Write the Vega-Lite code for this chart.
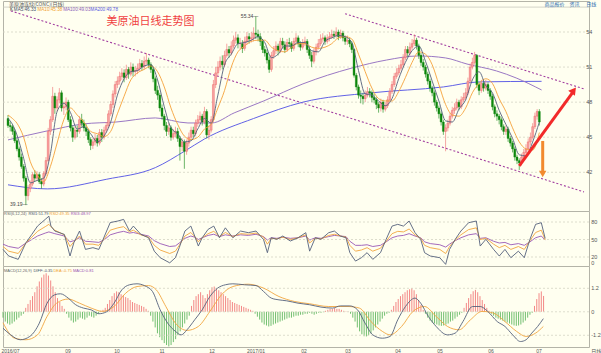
{
"$schema": "https://vega.github.io/schema/vega-lite/v6.json",
"background": "#fffff0",
"padding": 0,
"spacing": 0,
"bounds": "flush",
"config": {
  "font": "Liberation Sans",
  "concat": {"spacing": 0},
  "view": {"stroke": "#b4b4a8", "fill": "#fffff0"},
  "axis": {"disable": true, "labels": false, "ticks": false, "domain": false, "grid": false, "titleOpacity": 0, "titleFontSize": 0.1, "titlePadding": 0, "labelPadding": 0, "tickSize": 0, "minExtent": 0, "maxExtent": 0}
},
"datasets": {
"k": [
{"i":0,"o":46.6,"h":46.9,"l":45.8,"c":46.0,"m":-0.3},{"i":1,"o":46.0,"h":46.3,"l":45.5,"c":45.9,"m":-0.5},{"i":2,"o":45.9,"h":46.1,"l":45.2,"c":45.5,"m":-0.6},{"i":3,"o":45.5,"h":45.7,"l":44.5,"c":44.7,"m":-0.66},{"i":4,"o":44.7,"h":44.9,"l":43.8,"c":44.0,"m":-0.6},
{"i":5,"o":44.0,"h":44.2,"l":43.0,"c":43.3,"m":-0.5},{"i":6,"o":43.3,"h":43.6,"l":42.3,"c":42.5,"m":-0.4},{"i":7,"o":42.5,"h":42.7,"l":41.2,"c":41.5,"m":-0.3},{"i":8,"o":41.5,"h":41.7,"l":39.19,"c":40.0,"m":-0.2},{"i":9,"o":40.0,"h":40.9,"l":39.6,"c":40.6,"m":-0.1},
{"i":10,"o":40.6,"h":41.3,"l":40.3,"c":41.0,"m":0.2},{"i":11,"o":41.0,"h":42.0,"l":40.8,"c":41.8,"m":0.4},{"i":12,"o":41.8,"h":42.2,"l":41.2,"c":41.5,"m":0.6},{"i":13,"o":41.5,"h":42.1,"l":41.3,"c":41.8,"m":0.8},{"i":14,"o":41.8,"h":42.0,"l":41.0,"c":41.2,"m":1.0},
{"i":15,"o":41.2,"h":41.5,"l":40.6,"c":41.0,"m":1.3},{"i":16,"o":41.0,"h":42.1,"l":40.8,"c":41.9,"m":1.55},{"i":17,"o":41.9,"h":43.3,"l":41.7,"c":43.0,"m":1.75},{"i":18,"o":43.0,"h":45.8,"l":42.9,"c":45.5,"m":1.9},{"i":19,"o":45.5,"h":46.8,"l":45.2,"c":46.5,"m":1.97},
{"i":20,"o":46.5,"h":49.3,"l":46.3,"c":48.5,"m":1.85},{"i":21,"o":48.5,"h":48.8,"l":47.0,"c":47.5,"m":1.6},{"i":22,"o":47.5,"h":48.5,"l":47.2,"c":48.2,"m":1.3},{"i":23,"o":48.2,"h":49.2,"l":47.9,"c":48.8,"m":1.0},{"i":24,"o":48.8,"h":49.0,"l":47.2,"c":47.5,"m":0.7},
{"i":25,"o":47.5,"h":48.0,"l":46.9,"c":47.6,"m":0.5},{"i":26,"o":47.6,"h":48.4,"l":47.3,"c":48.0,"m":0.3},{"i":27,"o":48.0,"h":48.2,"l":46.3,"c":46.5,"m":0.15},{"i":28,"o":46.5,"h":46.8,"l":45.5,"c":45.8,"m":-0.1},{"i":29,"o":45.8,"h":46.0,"l":44.6,"c":45.0,"m":-0.3},
{"i":30,"o":45.0,"h":45.9,"l":44.8,"c":45.6,"m":-0.45},{"i":31,"o":45.6,"h":46.0,"l":45.0,"c":45.5,"m":-0.55},{"i":32,"o":45.5,"h":46.8,"l":45.3,"c":46.5,"m":-0.5},{"i":33,"o":46.5,"h":47.0,"l":45.9,"c":46.2,"m":-0.4},{"i":34,"o":46.2,"h":46.5,"l":45.5,"c":45.8,"m":-0.3},
{"i":35,"o":45.8,"h":46.1,"l":45.1,"c":45.5,"m":-0.35},{"i":36,"o":45.5,"h":45.7,"l":44.5,"c":44.8,"m":-0.4},{"i":37,"o":44.8,"h":45.0,"l":43.9,"c":44.3,"m":-0.3},{"i":38,"o":44.3,"h":44.9,"l":44.0,"c":44.6,"m":-0.2},{"i":39,"o":44.6,"h":45.3,"l":44.3,"c":44.9,"m":-0.25},
{"i":40,"o":44.9,"h":45.2,"l":44.2,"c":44.5,"m":-0.3},{"i":41,"o":44.5,"h":45.7,"l":44.3,"c":45.4,"m":-0.2},{"i":42,"o":45.4,"h":45.7,"l":44.6,"c":45.0,"m":-0.1},{"i":43,"o":45.0,"h":45.9,"l":44.8,"c":45.6,"m":0.05},{"i":44,"o":45.6,"h":46.3,"l":45.4,"c":46.0,"m":0.1},
{"i":45,"o":46.0,"h":47.3,"l":45.8,"c":47.0,"m":0.2},{"i":46,"o":47.0,"h":48.1,"l":46.8,"c":47.8,"m":0.4},{"i":47,"o":47.8,"h":49.0,"l":47.5,"c":48.7,"m":0.6},{"i":48,"o":48.7,"h":49.8,"l":48.4,"c":49.5,"m":0.8},{"i":49,"o":49.5,"h":50.2,"l":49.2,"c":49.8,"m":0.95},
{"i":50,"o":49.8,"h":50.6,"l":49.5,"c":50.2,"m":1.04},{"i":51,"o":50.2,"h":50.9,"l":49.9,"c":50.5,"m":1.0},{"i":52,"o":50.5,"h":50.8,"l":49.7,"c":50.1,"m":0.9},{"i":53,"o":50.1,"h":51.2,"l":49.9,"c":50.8,"m":0.85},{"i":54,"o":50.8,"h":51.0,"l":50.0,"c":50.4,"m":0.75},
{"i":55,"o":50.4,"h":51.4,"l":50.2,"c":51.0,"m":0.7},{"i":56,"o":51.0,"h":51.3,"l":50.2,"c":50.6,"m":0.6},{"i":57,"o":50.6,"h":51.1,"l":50.2,"c":50.7,"m":0.5},{"i":58,"o":50.7,"h":51.3,"l":50.4,"c":50.9,"m":0.45},{"i":59,"o":50.9,"h":51.7,"l":50.6,"c":51.3,"m":0.4},
{"i":60,"o":51.3,"h":51.6,"l":50.7,"c":51.0,"m":0.35},{"i":61,"o":51.0,"h":51.9,"l":50.8,"c":51.5,"m":0.3},{"i":62,"o":51.5,"h":52.2,"l":51.2,"c":51.6,"m":0.25},{"i":63,"o":51.6,"h":51.8,"l":50.9,"c":51.2,"m":0.15},{"i":64,"o":51.2,"h":51.4,"l":50.5,"c":50.8,"m":0.05},
{"i":65,"o":50.8,"h":51.0,"l":49.7,"c":50.0,"m":-0.2},{"i":66,"o":50.0,"h":50.2,"l":48.7,"c":49.0,"m":-0.5},{"i":67,"o":49.0,"h":49.4,"l":48.2,"c":48.6,"m":-0.8},{"i":68,"o":48.6,"h":48.8,"l":47.2,"c":47.5,"m":-1.1},{"i":69,"o":47.5,"h":47.8,"l":46.5,"c":46.8,"m":-1.3},
{"i":70,"o":46.8,"h":47.0,"l":45.6,"c":46.0,"m":-1.45},{"i":71,"o":46.0,"h":46.3,"l":45.1,"c":45.5,"m":-1.6},{"i":72,"o":45.5,"h":46.2,"l":45.2,"c":45.8,"m":-1.7},{"i":73,"o":45.8,"h":46.0,"l":44.7,"c":45.0,"m":-1.77},{"i":74,"o":45.0,"h":45.7,"l":44.8,"c":45.3,"m":-1.7},
{"i":75,"o":45.3,"h":45.9,"l":45.0,"c":45.5,"m":-1.55},{"i":76,"o":45.5,"h":45.8,"l":44.6,"c":44.9,"m":-1.4},{"i":77,"o":44.9,"h":45.1,"l":43.0,"c":44.2,"m":-1.2},{"i":78,"o":44.2,"h":44.9,"l":43.8,"c":44.6,"m":-1.0},{"i":79,"o":44.6,"h":44.8,"l":42.3,"c":43.8,"m":-0.8},
{"i":80,"o":43.8,"h":44.8,"l":43.5,"c":44.5,"m":-0.6},{"i":81,"o":44.5,"h":45.4,"l":44.2,"c":45.0,"m":-0.4},{"i":82,"o":45.0,"h":45.9,"l":44.8,"c":45.6,"m":-0.2},{"i":83,"o":45.6,"h":45.9,"l":45.0,"c":45.3,"m":0.3},{"i":84,"o":45.3,"h":46.5,"l":45.1,"c":46.2,"m":0.6},
{"i":85,"o":46.2,"h":46.9,"l":45.9,"c":46.5,"m":0.8},{"i":86,"o":46.5,"h":47.2,"l":46.2,"c":46.8,"m":0.9},{"i":87,"o":46.8,"h":47.0,"l":46.0,"c":46.3,"m":1.0},{"i":88,"o":46.3,"h":47.6,"l":46.1,"c":47.2,"m":0.85},{"i":89,"o":47.2,"h":47.4,"l":44.9,"c":45.2,"m":0.7},
{"i":90,"o":45.2,"h":46.0,"l":44.8,"c":45.6,"m":0.9},{"i":91,"o":45.6,"h":46.8,"l":45.4,"c":46.5,"m":1.1},{"i":92,"o":46.5,"h":49.9,"l":46.3,"c":49.5,"m":1.25},{"i":93,"o":49.5,"h":51.0,"l":49.2,"c":50.5,"m":1.29},{"i":94,"o":50.5,"h":51.5,"l":50.2,"c":51.0,"m":1.2},
{"i":95,"o":51.0,"h":51.9,"l":50.7,"c":51.5,"m":1.1},{"i":96,"o":51.5,"h":52.0,"l":50.8,"c":51.2,"m":1.0},{"i":97,"o":51.2,"h":52.4,"l":51.0,"c":52.0,"m":0.9},{"i":98,"o":52.0,"h":53.0,"l":51.8,"c":52.5,"m":0.8},{"i":99,"o":52.5,"h":52.8,"l":51.8,"c":52.2,"m":0.7},
{"i":100,"o":52.2,"h":53.2,"l":52.0,"c":52.8,"m":0.6},{"i":101,"o":52.8,"h":53.7,"l":52.6,"c":53.3,"m":0.5},{"i":102,"o":53.3,"h":54.0,"l":53.0,"c":53.5,"m":0.45},{"i":103,"o":53.5,"h":53.8,"l":52.6,"c":53.0,"m":0.4},{"i":104,"o":53.0,"h":53.5,"l":52.5,"c":53.05,"m":0.35},
{"i":105,"o":53.0,"h":53.3,"l":52.2,"c":52.6,"m":0.3},{"i":106,"o":52.6,"h":53.6,"l":52.4,"c":53.2,"m":0.25},{"i":107,"o":53.2,"h":54.0,"l":52.9,"c":53.6,"m":0.2},{"i":108,"o":53.6,"h":53.9,"l":53.0,"c":53.4,"m":0.15},{"i":109,"o":53.4,"h":54.0,"l":53.1,"c":53.5,"m":0.1},
{"i":110,"o":53.5,"h":54.4,"l":53.2,"c":53.9,"m":0.05},{"i":111,"o":53.9,"h":55.34,"l":53.4,"c":53.8,"m":-0.1},{"i":112,"o":53.8,"h":54.2,"l":53.2,"c":53.6,"m":-0.25},{"i":113,"o":53.6,"h":53.9,"l":52.8,"c":53.2,"m":-0.4},{"i":114,"o":53.2,"h":53.4,"l":52.2,"c":52.5,"m":-0.55},
{"i":115,"o":52.5,"h":52.8,"l":51.9,"c":52.2,"m":-0.65},{"i":116,"o":52.2,"h":52.5,"l":51.3,"c":51.6,"m":-0.7},{"i":117,"o":51.6,"h":51.9,"l":50.5,"c":50.8,"m":-0.75},{"i":118,"o":50.8,"h":52.3,"l":50.6,"c":52.0,"m":-0.72},{"i":119,"o":52.0,"h":52.8,"l":51.7,"c":52.4,"m":-0.65},
{"i":120,"o":52.4,"h":53.2,"l":52.1,"c":52.8,"m":-0.6},{"i":121,"o":52.8,"h":53.0,"l":52.0,"c":52.4,"m":-0.55},{"i":122,"o":52.4,"h":53.5,"l":52.2,"c":53.2,"m":-0.5},{"i":123,"o":53.2,"h":53.5,"l":52.6,"c":52.9,"m":-0.45},{"i":124,"o":52.9,"h":53.2,"l":52.2,"c":52.5,"m":-0.4},
{"i":125,"o":52.5,"h":53.4,"l":52.3,"c":53.1,"m":-0.35},{"i":126,"o":53.1,"h":53.5,"l":52.7,"c":53.0,"m":-0.3},{"i":127,"o":53.0,"h":53.2,"l":52.3,"c":52.6,"m":-0.3},{"i":128,"o":52.6,"h":53.5,"l":52.4,"c":53.2,"m":-0.25},{"i":129,"o":53.2,"h":53.9,"l":53.0,"c":53.5,"m":-0.2},
{"i":130,"o":53.5,"h":53.7,"l":52.7,"c":53.0,"m":-0.2},{"i":131,"o":53.0,"h":53.2,"l":52.4,"c":52.7,"m":-0.15},{"i":132,"o":52.7,"h":53.4,"l":52.5,"c":53.0,"m":-0.15},{"i":133,"o":53.0,"h":53.6,"l":52.8,"c":53.2,"m":-0.1},{"i":134,"o":53.2,"h":53.4,"l":52.2,"c":52.5,"m":-0.1},
{"i":135,"o":52.5,"h":52.8,"l":51.7,"c":52.0,"m":-0.05},{"i":136,"o":52.0,"h":52.3,"l":51.0,"c":51.5,"m":-0.1},{"i":137,"o":51.5,"h":52.6,"l":51.3,"c":52.3,"m":-0.15},{"i":138,"o":52.3,"h":53.0,"l":52.0,"c":52.7,"m":-0.1},{"i":139,"o":52.7,"h":53.4,"l":52.5,"c":53.0,"m":-0.05},
{"i":140,"o":53.0,"h":53.8,"l":52.8,"c":53.4,"m":-0.05},{"i":141,"o":53.4,"h":53.9,"l":53.1,"c":53.5,"m":-0.02},{"i":142,"o":53.5,"h":53.7,"l":52.9,"c":53.2,"m":0.05},{"i":143,"o":53.2,"h":53.8,"l":53.0,"c":53.5,"m":0.1},{"i":144,"o":53.5,"h":54.0,"l":53.2,"c":53.6,"m":0.15},
{"i":145,"o":53.6,"h":54.2,"l":53.4,"c":53.8,"m":0.15},{"i":146,"o":53.8,"h":54.1,"l":53.4,"c":53.7,"m":0.2},{"i":147,"o":53.7,"h":54.4,"l":53.5,"c":54.0,"m":0.15},{"i":148,"o":54.0,"h":54.2,"l":53.3,"c":53.6,"m":0.15},{"i":149,"o":53.6,"h":54.2,"l":53.4,"c":53.9,"m":0.1},
{"i":150,"o":53.9,"h":54.1,"l":53.2,"c":53.5,"m":0.05},{"i":151,"o":53.5,"h":53.7,"l":52.9,"c":53.2,"m":0.02},{"i":152,"o":53.2,"h":53.7,"l":52.9,"c":53.3,"m":0.01},{"i":153,"o":53.3,"h":53.5,"l":52.7,"c":53.0,"m":-0.1},{"i":154,"o":53.0,"h":53.2,"l":52.2,"c":52.5,"m":-0.3},
{"i":155,"o":52.5,"h":52.6,"l":50.1,"c":50.3,"m":-0.5},{"i":156,"o":50.3,"h":50.5,"l":49.0,"c":49.3,"m":-0.8},{"i":157,"o":49.3,"h":49.5,"l":48.3,"c":48.6,"m":-1.0},{"i":158,"o":48.6,"h":49.0,"l":47.9,"c":48.5,"m":-1.15},{"i":159,"o":48.5,"h":48.8,"l":47.8,"c":48.3,"m":-1.25},
{"i":160,"o":48.3,"h":49.0,"l":48.0,"c":48.6,"m":-1.26},{"i":161,"o":48.6,"h":49.3,"l":48.4,"c":48.9,"m":-1.2},{"i":162,"o":48.9,"h":49.2,"l":48.4,"c":48.8,"m":-1.1},{"i":163,"o":48.8,"h":49.0,"l":48.0,"c":48.4,"m":-0.95},{"i":164,"o":48.4,"h":48.7,"l":47.9,"c":48.2,"m":-0.8},
{"i":165,"o":48.2,"h":48.4,"l":47.4,"c":47.8,"m":-0.65},{"i":166,"o":47.8,"h":48.0,"l":47.1,"c":47.5,"m":-0.5},{"i":167,"o":47.5,"h":48.3,"l":47.2,"c":48.0,"m":-0.35},{"i":168,"o":48.0,"h":48.2,"l":47.1,"c":47.4,"m":-0.2},{"i":169,"o":47.4,"h":48.0,"l":47.2,"c":47.7,"m":-0.1},
{"i":170,"o":47.7,"h":48.5,"l":47.5,"c":48.2,"m":-0.05},{"i":171,"o":48.2,"h":49.2,"l":48.0,"c":48.9,"m":0.1},{"i":172,"o":48.9,"h":49.8,"l":48.7,"c":49.5,"m":0.3},{"i":173,"o":49.5,"h":50.5,"l":49.3,"c":50.2,"m":0.5},{"i":174,"o":50.2,"h":50.9,"l":50.0,"c":50.5,"m":0.65},
{"i":175,"o":50.5,"h":51.2,"l":50.3,"c":50.9,"m":0.8},{"i":176,"o":50.9,"h":51.6,"l":50.7,"c":51.2,"m":0.9},{"i":177,"o":51.2,"h":52.1,"l":51.0,"c":51.8,"m":1.0},{"i":178,"o":51.8,"h":52.8,"l":51.6,"c":52.5,"m":1.1},{"i":179,"o":52.5,"h":52.8,"l":51.9,"c":52.2,"m":1.15},
{"i":180,"o":52.2,"h":53.1,"l":52.0,"c":52.7,"m":1.21},{"i":181,"o":52.7,"h":53.4,"l":52.5,"c":53.0,"m":1.1},{"i":182,"o":53.0,"h":53.8,"l":52.8,"c":53.3,"m":0.9},{"i":183,"o":53.3,"h":53.5,"l":52.5,"c":52.8,"m":0.6},{"i":184,"o":52.8,"h":53.0,"l":51.7,"c":52.0,"m":0.35},
{"i":185,"o":52.0,"h":52.2,"l":51.1,"c":51.4,"m":0.1},{"i":186,"o":51.4,"h":51.7,"l":50.7,"c":51.0,"m":-0.1},{"i":187,"o":51.0,"h":51.2,"l":50.1,"c":50.4,"m":-0.3},{"i":188,"o":50.4,"h":50.6,"l":49.5,"c":49.8,"m":-0.45},{"i":189,"o":49.8,"h":50.0,"l":48.9,"c":49.2,"m":-0.55},
{"i":190,"o":49.2,"h":49.4,"l":48.5,"c":48.8,"m":-0.6},{"i":191,"o":48.8,"h":49.0,"l":47.7,"c":48.0,"m":-0.65},{"i":192,"o":48.0,"h":48.2,"l":47.2,"c":47.5,"m":-0.7},{"i":193,"o":47.5,"h":47.7,"l":46.6,"c":47.0,"m":-0.72},{"i":194,"o":47.0,"h":47.2,"l":46.0,"c":46.3,"m":-0.7},
{"i":195,"o":46.3,"h":46.5,"l":45.2,"c":45.5,"m":-0.65},{"i":196,"o":45.5,"h":46.1,"l":43.8,"c":45.8,"m":-0.6},{"i":197,"o":45.8,"h":46.5,"l":45.5,"c":46.2,"m":-0.5},{"i":198,"o":46.2,"h":47.1,"l":46.0,"c":46.8,"m":-0.45},{"i":199,"o":46.8,"h":47.6,"l":46.6,"c":47.3,"m":-0.35},
{"i":200,"o":47.3,"h":47.9,"l":47.0,"c":47.5,"m":-0.25},{"i":201,"o":47.5,"h":48.3,"l":47.3,"c":48.0,"m":-0.15},{"i":202,"o":48.0,"h":48.2,"l":47.3,"c":47.6,"m":-0.05},{"i":203,"o":47.6,"h":48.5,"l":47.4,"c":48.2,"m":0.2},{"i":204,"o":48.2,"h":48.8,"l":48.0,"c":48.4,"m":0.45},
{"i":205,"o":48.4,"h":49.2,"l":48.2,"c":48.8,"m":0.7},{"i":206,"o":48.8,"h":50.1,"l":48.6,"c":49.8,"m":0.9},{"i":207,"o":49.8,"h":51.3,"l":49.6,"c":51.0,"m":1.05},{"i":208,"o":51.0,"h":51.8,"l":50.8,"c":51.4,"m":1.12},{"i":209,"o":51.4,"h":52.3,"l":51.2,"c":52.0,"m":1.0},
{"i":210,"o":52.0,"h":52.1,"l":49.2,"c":49.5,"m":0.8},{"i":211,"o":49.5,"h":49.7,"l":48.6,"c":49.0,"m":0.6},{"i":212,"o":49.0,"h":49.9,"l":48.8,"c":49.6,"m":0.4},{"i":213,"o":49.6,"h":49.8,"l":48.9,"c":49.2,"m":0.2},{"i":214,"o":49.2,"h":49.9,"l":49.0,"c":49.5,"m":0.05},
{"i":215,"o":49.5,"h":49.7,"l":48.7,"c":49.0,"m":-0.1},{"i":216,"o":49.0,"h":49.2,"l":48.2,"c":48.5,"m":-0.2},{"i":217,"o":48.5,"h":48.7,"l":47.3,"c":47.6,"m":-0.3},{"i":218,"o":47.6,"h":47.8,"l":46.7,"c":47.0,"m":-0.35},{"i":219,"o":47.0,"h":47.3,"l":46.4,"c":46.8,"m":-0.4},
{"i":220,"o":46.8,"h":47.0,"l":46.1,"c":46.5,"m":-0.45},{"i":221,"o":46.5,"h":46.7,"l":45.6,"c":45.9,"m":-0.5},{"i":222,"o":45.9,"h":46.1,"l":45.2,"c":45.5,"m":-0.55},{"i":223,"o":45.5,"h":46.0,"l":45.2,"c":45.7,"m":-0.6},{"i":224,"o":45.7,"h":45.9,"l":44.6,"c":44.9,"m":-0.65},
{"i":225,"o":44.9,"h":45.1,"l":44.2,"c":44.5,"m":-0.7},{"i":226,"o":44.5,"h":44.7,"l":43.7,"c":44.0,"m":-0.72},{"i":227,"o":44.0,"h":44.2,"l":43.0,"c":43.3,"m":-0.7},{"i":228,"o":43.3,"h":43.5,"l":42.7,"c":43.0,"m":-0.65},{"i":229,"o":43.0,"h":43.2,"l":42.2,"c":42.8,"m":-0.55},
{"i":230,"o":42.8,"h":43.6,"l":42.6,"c":43.3,"m":-0.45},{"i":231,"o":43.3,"h":44.0,"l":43.1,"c":43.7,"m":-0.3},{"i":232,"o":43.7,"h":44.4,"l":43.5,"c":44.0,"m":-0.15},{"i":233,"o":44.0,"h":44.9,"l":43.8,"c":44.6,"m":-0.05},{"i":234,"o":44.6,"h":45.4,"l":44.3,"c":45.0,"m":0.3},
{"i":235,"o":45.0,"h":46.2,"l":44.8,"c":45.9,"m":0.65},{"i":236,"o":45.9,"h":47.1,"l":45.7,"c":46.8,"m":0.95},{"i":237,"o":46.8,"h":47.4,"l":46.5,"c":47.2,"m":1.04},{"i":238,"o":47.2,"h":47.4,"l":46.0,"c":46.3,"m":0.81}
],
"ma": [
{"i":0,"a":46.6,"b":46.9},{"i":2,"a":46.1,"b":46.6},{"i":4,"a":45.2,"b":46.2},{"i":7,"a":43.2,"b":45.0},{"i":10,"a":41.1,"b":42.9},{"i":13,"a":41.3,"b":41.8},{"i":16,"a":41.5,"b":41.2},{"i":19,"a":43.6,"b":42.5},{"i":22,"a":47.2,"b":44.5},{"i":25,"a":47.9,"b":46.5},{"i":28,"a":47.1,"b":47.5},{"i":31,"a":45.7,"b":46.9},{"i":34,"a":45.9,"b":46.3},{"i":37,"a":45.3,"b":45.5},{"i":40,"a":44.6,"b":45.3},{"i":43,"a":45.1,"b":45.05},{"i":46,"a":46.3,"b":45.5},{"i":49,"a":48.6,"b":47.0},{"i":52,"a":50.0,"b":48.5},{"i":55,"a":50.6,"b":49.9},{"i":58,"a":50.7,"b":50.5},{"i":61,"a":51.1,"b":50.8},{"i":64,"a":51.2,"b":51.1},{"i":67,"a":49.9,"b":50.6},{"i":70,"a":47.6,"b":49.3},{"i":73,"a":45.8,"b":47.5},{"i":76,"a":45.3,"b":46.1},{"i":79,"a":44.6,"b":45.1},{"i":82,"a":44.7,"b":44.8},{"i":85,"a":45.7,"b":45.0},{"i":88,"a":46.6,"b":45.7},{"i":91,"a":46.2,"b":46.1},{"i":94,"a":48.6,"b":47.5},{"i":97,"a":51.2,"b":49.0},{"i":100,"a":52.1,"b":51.0},{"i":103,"a":53.0,"b":52.3},{"i":106,"a":53.1,"b":52.8},{"i":109,"a":53.3,"b":53.2},{"i":112,"a":53.6,"b":53.3},{"i":115,"a":53.1,"b":53.3},{"i":118,"a":51.8,"b":52.7},{"i":121,"a":52.1,"b":52.4},{"i":124,"a":52.8,"b":52.3},{"i":127,"a":52.8,"b":52.7},{"i":130,"a":53.1,"b":53.0},{"i":133,"a":53.1,"b":53.0},{"i":136,"a":52.4,"b":52.7},{"i":139,"a":52.3,"b":52.6},{"i":142,"a":53.2,"b":52.7},{"i":145,"a":53.5,"b":53.0},{"i":148,"a":53.7,"b":53.5},{"i":151,"a":53.6,"b":53.6},{"i":154,"a":53.1,"b":53.4},{"i":157,"a":50.7,"b":52.1},{"i":160,"a":48.7,"b":50.6},{"i":163,"a":48.6,"b":49.2},{"i":166,"a":48.1,"b":48.3},{"i":169,"a":47.7,"b":48.1},{"i":172,"a":48.3,"b":48.1},{"i":175,"a":50.0,"b":48.9},{"i":178,"a":51.4,"b":50.1},{"i":181,"a":52.4,"b":51.4},{"i":184,"a":52.8,"b":52.3},{"i":187,"a":51.5,"b":52.1},{"i":190,"a":49.8,"b":51.2},{"i":193,"a":48.1,"b":49.5},{"i":196,"a":46.4,"b":47.8},{"i":199,"a":46.3,"b":46.9},{"i":202,"a":47.4,"b":46.8},{"i":205,"a":48.2,"b":47.5},{"i":208,"a":49.9,"b":48.8},{"i":211,"a":50.6,"b":49.6},{"i":214,"a":49.4,"b":50.0},{"i":217,"a":48.8,"b":49.6},{"i":220,"a":47.3,"b":48.3},{"i":223,"a":46.1,"b":47.2},{"i":226,"a":44.9,"b":45.8},{"i":229,"a":43.5,"b":44.6},{"i":232,"a":43.4,"b":44.0},{"i":235,"a":44.6,"b":43.9},{"i":238,"a":46.3,"b":45.4}
],
"m100": [
{"i":0,"v":44.77},{"i":17.6,"v":45.54},{"i":33.9,"v":46.14},{"i":48.4,"v":46.3},{"i":66,"v":46.65},{"i":80.6,"v":46.22},{"i":91.2,"v":46.22},{"i":101.3,"v":47.08},{"i":114.5,"v":48.1},{"i":132.1,"v":49.56},{"i":154.1,"v":50.92},{"i":169.5,"v":51.6},{"i":183.6,"v":51.95},{"i":196,"v":51.78},{"i":205.6,"v":51.26},{"i":218.8,"v":50.67},{"i":227.6,"v":50.07},{"i":239,"v":49.04}
],
"m200": [
{"i":0,"v":40.93},{"i":17.6,"v":40.58},{"i":44,"v":41.4},{"i":66,"v":42.4},{"i":79.3,"v":43.83},{"i":88,"v":44.85},{"i":110,"v":46.6},{"i":132.1,"v":48.0},{"i":163,"v":48.8},{"i":195,"v":49.3},{"i":211,"v":49.73},{"i":239,"v":49.78}
],
"trend": [
{"g":"A","i":1.3,"v":55.8},{"g":"A","i":258,"v":40.32},{"g":"B","i":151,"v":55.56},{"g":"B","i":258,"v":49.13}
],
"rsi": [
{"i":0,"r1":33,"r2":38,"r3":42},{"i":2.5,"r1":21.7,"r2":30,"r3":38},{"i":6.7,"r1":16,"r2":26,"r3":35},{"i":10.1,"r1":44.5,"r2":44,"r3":44},{"i":12.7,"r1":58.8,"r2":54,"r3":50},{"i":15.2,"r1":73,"r2":64,"r3":56},{"i":18.6,"r1":84.5,"r2":72,"r3":61},{"i":20.2,"r1":90,"r2":76,"r3":63},{"i":21.1,"r1":73,"r2":72,"r3":62},{"i":22.8,"r1":64.5,"r2":66,"r3":60},{"i":27,"r1":58.8,"r2":58,"r3":56},{"i":29.5,"r1":21.7,"r2":38,"r3":46},{"i":31.2,"r1":44.5,"r2":46,"r3":48},{"i":33.7,"r1":64.5,"r2":56,"r3":53},{"i":36.3,"r1":33,"r2":42,"r3":47},{"i":39.6,"r1":36,"r2":42,"r3":46},{"i":42.2,"r1":33,"r2":40,"r3":45},{"i":44.7,"r1":56,"r2":52,"r3":50},{"i":47.2,"r1":79,"r2":66,"r3":58},{"i":50.6,"r1":81.7,"r2":70,"r3":62},{"i":53.1,"r1":84.5,"r2":72,"r3":64},{"i":55.7,"r1":64.5,"r2":63,"r3":61},{"i":57.4,"r1":73,"r2":66,"r3":62},{"i":60.7,"r1":58.8,"r2":58,"r3":59},{"i":64.1,"r1":53,"r2":54,"r3":56},{"i":66.6,"r1":30,"r2":40,"r3":48},{"i":69.2,"r1":18.8,"r2":32,"r3":43},{"i":73.4,"r1":10,"r2":26,"r3":38},{"i":75.9,"r1":18.8,"r2":30,"r3":39},{"i":77.6,"r1":36,"r2":40,"r3":44},{"i":80.1,"r1":64.5,"r2":56,"r3":52},{"i":82.7,"r1":73,"r2":62,"r3":56},{"i":84.4,"r1":56,"r2":55,"r3":54},{"i":86,"r1":38.8,"r2":46,"r3":50},{"i":87.7,"r1":53,"r2":53,"r3":53},{"i":90.3,"r1":67.4,"r2":60,"r3":57},{"i":92.8,"r1":73,"r2":64,"r3":59},{"i":95.3,"r1":53,"r2":55,"r3":55},{"i":97.9,"r1":70,"r2":62,"r3":58},{"i":101.2,"r1":53,"r2":55,"r3":56},{"i":104.6,"r1":64.5,"r2":60,"r3":58},{"i":108,"r1":61.7,"r2":59,"r3":57},{"i":111.4,"r1":64.5,"r2":61,"r3":59},{"i":114.7,"r1":50,"r2":54,"r3":55},{"i":116.4,"r1":27.4,"r2":42,"r3":49},{"i":118.1,"r1":53,"r2":52,"r3":53},{"i":120.6,"r1":50.3,"r2":51,"r3":52},{"i":123.2,"r1":56,"r2":54,"r3":54},{"i":126.5,"r1":47.4,"r2":50,"r3":52},{"i":129.9,"r1":53,"r2":53,"r3":53},{"i":133.3,"r1":61.7,"r2":58,"r3":56},{"i":135,"r1":30,"r2":44,"r3":49},{"i":137.5,"r1":53,"r2":52,"r3":53},{"i":140,"r1":50.3,"r2":51,"r3":52},{"i":143.4,"r1":61.7,"r2":57,"r3":55},{"i":145.9,"r1":64.5,"r2":59,"r3":57},{"i":148.5,"r1":56,"r2":56,"r3":56},{"i":151,"r1":53,"r2":54,"r3":55},{"i":152.7,"r1":27.4,"r2":40,"r3":47},{"i":155.2,"r1":13,"r2":30,"r3":40},{"i":157.8,"r1":18.8,"r2":32,"r3":40},{"i":160.3,"r1":27.4,"r2":36,"r3":41},{"i":162.8,"r1":16,"r2":30,"r3":38},{"i":166.2,"r1":27.4,"r2":35,"r3":40},{"i":168.7,"r1":50.3,"r2":47,"r3":46},{"i":171.3,"r1":73,"r2":60,"r3":53},{"i":173.8,"r1":76,"r2":64,"r3":56},{"i":176.3,"r1":73,"r2":63,"r3":57},{"i":178.8,"r1":81.7,"r2":68,"r3":60},{"i":181.4,"r1":61.7,"r2":58,"r3":56},{"i":183.9,"r1":50.3,"r2":52,"r3":53},{"i":185.6,"r1":27.4,"r2":40,"r3":46},{"i":188.1,"r1":21.7,"r2":36,"r3":43},{"i":192.3,"r1":18.8,"r2":33,"r3":41},{"i":194.9,"r1":7.4,"r2":26,"r3":37},{"i":196.6,"r1":33,"r2":38,"r3":42},{"i":199.1,"r1":50.3,"r2":49,"r3":48},{"i":201.6,"r1":64.5,"r2":58,"r3":53},{"i":205,"r1":78.8,"r2":67,"r3":58},{"i":208.4,"r1":81.7,"r2":70,"r3":60},{"i":210.1,"r1":38.8,"r2":50,"r3":52},{"i":212.6,"r1":50.3,"r2":52,"r3":53},{"i":216,"r1":33,"r2":42,"r3":47},{"i":218.5,"r1":21.7,"r2":36,"r3":44},{"i":221,"r1":33,"r2":40,"r3":45},{"i":223.6,"r1":18.8,"r2":33,"r3":41},{"i":226.9,"r1":30,"r2":38,"r3":43},{"i":229.5,"r1":18.8,"r2":33,"r3":40},{"i":232,"r1":50.3,"r2":48,"r3":46},{"i":234.5,"r1":76,"r2":62,"r3":53},{"i":237,"r1":78.8,"r2":66,"r3":56},{"i":238.7,"r1":51.8,"r2":49.4,"r3":49.0}
],
"dif": [
{"i":0,"v":-0.84},{"i":3.4,"v":-1.18},{"i":7.6,"v":-1.43},{"i":11.8,"v":-1.26},{"i":16,"v":-0.58},{"i":19.4,"v":0.44},{"i":22.8,"v":0.87},{"i":25.3,"v":0.92},{"i":28.7,"v":0.7},{"i":32,"v":0.36},{"i":35.4,"v":0.19},{"i":38.8,"v":0.1},{"i":42.2,"v":-0.1},{"i":45.6,"v":0},{"i":48.9,"v":0.44},{"i":52.3,"v":1.12},{"i":55.7,"v":1.38},{"i":59,"v":1.43},{"i":62.4,"v":1.33},{"i":65.8,"v":1.04},{"i":69.2,"v":0.1},{"i":72.5,"v":-0.58},{"i":75.9,"v":-1.0},{"i":78.5,"v":-1.18},{"i":81,"v":-0.92},{"i":84.4,"v":-0.41},{"i":87.7,"v":0.1},{"i":91.1,"v":0.78},{"i":94.5,"v":1.21},{"i":97.9,"v":1.38},{"i":101.2,"v":1.43},{"i":106.3,"v":1.38},{"i":111.4,"v":1.34},{"i":114.7,"v":1.04},{"i":118.1,"v":0.7},{"i":121.5,"v":0.61},{"i":124.9,"v":0.56},{"i":129.9,"v":0.44},{"i":135,"v":0.36},{"i":140,"v":0.24},{"i":145.1,"v":0.19},{"i":148.5,"v":0.3},{"i":152.7,"v":0.3},{"i":156.1,"v":0.1},{"i":159.4,"v":-0.58},{"i":162.8,"v":-1.18},{"i":167,"v":-1.35},{"i":170.4,"v":-1.26},{"i":173.8,"v":-0.41},{"i":177.2,"v":0.27},{"i":181.4,"v":0.7},{"i":183.9,"v":0.44},{"i":187.3,"v":-0.24},{"i":190.7,"v":-0.75},{"i":195.7,"v":-1.18},{"i":199.1,"v":-1.09},{"i":202.5,"v":-0.5},{"i":206.7,"v":0.27},{"i":210.1,"v":0.27},{"i":213.4,"v":0.02},{"i":217.6,"v":-0.5},{"i":221,"v":-0.75},{"i":224.4,"v":-1.18},{"i":227.8,"v":-1.52},{"i":230.3,"v":-1.43},{"i":232.8,"v":-1.09},{"i":235.4,"v":-0.75},{"i":237.9,"v":-0.35}
],
"dea": [
{"i":0,"v":-0.56},{"i":5.1,"v":-1.35},{"i":10.1,"v":-1.43},{"i":15.2,"v":-1.18},{"i":19.4,"v":-0.24},{"i":23.6,"v":0.44},{"i":28.7,"v":0.65},{"i":33.7,"v":0.44},{"i":38.8,"v":0.19},{"i":43.9,"v":0.02},{"i":48.9,"v":0.27},{"i":54,"v":0.95},{"i":59,"v":1.29},{"i":64.1,"v":1.34},{"i":67.5,"v":1.12},{"i":71.7,"v":0.27},{"i":75.9,"v":-0.58},{"i":81,"v":-0.95},{"i":86,"v":-0.75},{"i":91.1,"v":0.02},{"i":96.2,"v":0.87},{"i":101.2,"v":1.29},{"i":108,"v":1.41},{"i":114.7,"v":1.21},{"i":121.5,"v":0.78},{"i":128.2,"v":0.53},{"i":135,"v":0.41},{"i":143.4,"v":0.27},{"i":151.9,"v":0.27},{"i":156.9,"v":0.19},{"i":162,"v":-0.5},{"i":167,"v":-1.0},{"i":170.4,"v":-1.18},{"i":175.5,"v":-0.75},{"i":180.5,"v":0.02},{"i":185.6,"v":0.27},{"i":190.7,"v":-0.24},{"i":195.7,"v":-0.75},{"i":200.8,"v":-0.92},{"i":205.8,"v":-0.41},{"i":210.9,"v":0.02},{"i":216,"v":-0.07},{"i":221,"v":-0.5},{"i":226.1,"v":-1.0},{"i":230.3,"v":-1.26},{"i":234.5,"v":-1.09},{"i":237.9,"v":-0.75}
],
"redarrow": [{"i":229,"v":42.54},{"i":252.8,"v":48.8}],
"orangearrow": [{"i":239.5,"v":44.68},{"i":239.5,"v":42.1}]
},
"vconcat": [
{
 "width": 586, "height": 210,
 "layer": [
  {"data": {"name": "trend"}, "mark": {"type": "line", "strokeDash": [2, 2], "color": "#a23ea0", "strokeWidth": 1.1},
   "encoding": {"x": {"field": "i", "type": "quantitative", "scale": {"domain": [0, 258], "nice": false, "zero": false}},
    "y": {"field": "v", "type": "quantitative", "scale": {"domain": [38.69, 56.65], "nice": false, "zero": false}}, "detail": {"field": "g"}}},
  {"data": {"values": [{}]}, "mark": {"type": "rule", "color": "#d4d4c4", "strokeDash": [2, 2], "strokeWidth": 0.8}, "encoding": {"y": {"datum": 54, "type": "quantitative"}}},
  {"data": {"values": [{}]}, "mark": {"type": "rule", "color": "#d4d4c4", "strokeDash": [2, 2], "strokeWidth": 0.8}, "encoding": {"y": {"datum": 51, "type": "quantitative"}}},
  {"data": {"values": [{}]}, "mark": {"type": "rule", "color": "#d4d4c4", "strokeDash": [2, 2], "strokeWidth": 0.8}, "encoding": {"y": {"datum": 48, "type": "quantitative"}}},
  {"data": {"values": [{}]}, "mark": {"type": "rule", "color": "#d4d4c4", "strokeDash": [2, 2], "strokeWidth": 0.8}, "encoding": {"y": {"datum": 45, "type": "quantitative"}}},
  {"data": {"values": [{}]}, "mark": {"type": "rule", "color": "#d4d4c4", "strokeDash": [2, 2], "strokeWidth": 0.8}, "encoding": {"y": {"datum": 42, "type": "quantitative"}}},
  {"data": {"values": [{}]}, "mark": {"type": "text", "text": "54", "align": "left", "baseline": "middle", "fontSize": 5.5, "color": "#555555"}, "encoding": {"x": {"datum": 259, "type": "quantitative"}, "y": {"datum": 54, "type": "quantitative"}}},
  {"data": {"values": [{}]}, "mark": {"type": "text", "text": "51", "align": "left", "baseline": "middle", "fontSize": 5.5, "color": "#555555"}, "encoding": {"x": {"datum": 259, "type": "quantitative"}, "y": {"datum": 51, "type": "quantitative"}}},
  {"data": {"values": [{}]}, "mark": {"type": "text", "text": "48", "align": "left", "baseline": "middle", "fontSize": 5.5, "color": "#555555"}, "encoding": {"x": {"datum": 259, "type": "quantitative"}, "y": {"datum": 48, "type": "quantitative"}}},
  {"data": {"values": [{}]}, "mark": {"type": "text", "text": "45", "align": "left", "baseline": "middle", "fontSize": 5.5, "color": "#555555"}, "encoding": {"x": {"datum": 259, "type": "quantitative"}, "y": {"datum": 45, "type": "quantitative"}}},
  {"data": {"values": [{}]}, "mark": {"type": "text", "text": "42", "align": "left", "baseline": "middle", "fontSize": 5.5, "color": "#555555"}, "encoding": {"x": {"datum": 259, "type": "quantitative"}, "y": {"datum": 42, "type": "quantitative"}}},
  {"data": {"name": "m200"}, "mark": {"type": "line", "color": "#6262e6", "strokeWidth": 1, "interpolate": "monotone"},
   "encoding": {"x": {"field": "i", "type": "quantitative"}, "y": {"field": "v", "type": "quantitative"}}},
  {"data": {"name": "m100"}, "mark": {"type": "line", "color": "#9a78c4", "strokeWidth": 1, "interpolate": "monotone"},
   "encoding": {"x": {"field": "i", "type": "quantitative"}, "y": {"field": "v", "type": "quantitative"}}},
  {"data": {"name": "k"}, "mark": {"type": "rule", "strokeWidth": 0.7},
   "encoding": {"x": {"field": "i", "type": "quantitative"}, "y": {"field": "l", "type": "quantitative"}, "y2": {"field": "h"},
    "color": {"condition": {"test": "datum.c >= datum.o", "value": "#f07f7f"}, "value": "#2f962f"}}},
  {"data": {"name": "k"}, "mark": {"type": "bar", "orient": "vertical", "size": 1.9, "strokeWidth": 0.4},
   "encoding": {"x": {"field": "i", "type": "quantitative"}, "y": {"field": "o", "type": "quantitative"}, "y2": {"field": "c"},
    "color": {"condition": {"test": "datum.c >= datum.o", "value": "#f7a3a3"}, "value": "#0c870c"},
    "stroke": {"condition": {"test": "datum.c >= datum.o", "value": "#ea5a5a"}, "value": "#0c870c"}}},
  {"data": {"name": "ma"}, "mark": {"type": "line", "color": "#f5a23a", "strokeWidth": 0.9, "interpolate": "monotone"},
   "encoding": {"x": {"field": "i", "type": "quantitative"}, "y": {"field": "b", "type": "quantitative"}}},
  {"data": {"name": "ma"}, "mark": {"type": "line", "color": "#55617c", "strokeWidth": 0.9, "interpolate": "monotone"},
   "encoding": {"x": {"field": "i", "type": "quantitative"}, "y": {"field": "a", "type": "quantitative"}}},
  {"data": {"name": "redarrow"}, "mark": {"type": "line", "color": "#f22a2a", "strokeWidth": 3},
   "encoding": {"x": {"field": "i", "type": "quantitative"}, "y": {"field": "v", "type": "quantitative"}}},
  {"data": {"values": [{}]}, "mark": {"type": "point", "shape": "triangle-up", "angle": 37, "filled": true, "size": 70, "color": "#f22a2a", "opacity": 1},
   "encoding": {"x": {"datum": 253.4, "type": "quantitative"}, "y": {"datum": 49.0, "type": "quantitative"}}},
  {"data": {"name": "orangearrow"}, "mark": {"type": "line", "color": "#f28a2e", "strokeWidth": 3},
   "encoding": {"x": {"field": "i", "type": "quantitative"}, "y": {"field": "v", "type": "quantitative"}}},
  {"data": {"values": [{}]}, "mark": {"type": "point", "shape": "triangle-down", "filled": true, "size": 55, "color": "#f28a2e", "opacity": 1},
   "encoding": {"x": {"datum": 239.5, "type": "quantitative"}, "y": {"datum": 41.85, "type": "quantitative"}}},
  {"data": {"values": [{}]}, "mark": {"type": "rule", "color": "#c8c8bc", "strokeWidth": 0.8},
   "encoding": {"y": {"datum": 56.13, "type": "quantitative"}}},
  {"data": {"values": [{}]}, "mark": {"type": "text", "text": "美原油连续(CONC)(日线)", "fontSize": 5, "align": "left", "baseline": "middle", "color": "#555555", "font": "Noto Sans CJK SC"},
   "encoding": {"x": {"datum": 0.4, "type": "quantitative"}, "y": {"datum": 56.42, "type": "quantitative"}}},
  {"data": {"values": [{}]}, "mark": {"type": "text", "text": "商品报价", "fontSize": 5, "baseline": "middle", "color": "#2d6fb0", "font": "Noto Sans CJK SC"},
   "encoding": {"x": {"datum": 244.8, "type": "quantitative"}, "y": {"datum": 56.42, "type": "quantitative"}}},
  {"data": {"values": [{}]}, "mark": {"type": "text", "text": "资讯", "fontSize": 5, "baseline": "middle", "color": "#2d6fb0", "font": "Noto Sans CJK SC"},
   "encoding": {"x": {"datum": 253.8, "type": "quantitative"}, "y": {"datum": 56.42, "type": "quantitative"}}},
  {"data": {"values": [{}]}, "mark": {"type": "text", "text": "日线", "fontSize": 5, "baseline": "middle", "color": "#2d6fb0", "font": "Noto Sans CJK SC"},
   "encoding": {"x": {"datum": 261.3, "type": "quantitative"}, "y": {"datum": 56.42, "type": "quantitative"}}},
  {"data": {"values": [{}]}, "mark": {"type": "text", "text": "K", "fontSize": 4.6, "align": "left", "baseline": "middle", "color": "#333333"},
   "encoding": {"x": {"datum": 0.9, "type": "quantitative"}, "y": {"datum": 55.84, "type": "quantitative"}}},
  {"data": {"values": [{}]}, "mark": {"type": "text", "text": "MA5:46.33", "fontSize": 4.6, "align": "left", "baseline": "middle", "color": "#44506a"},
   "encoding": {"x": {"datum": 2.6, "type": "quantitative"}, "y": {"datum": 55.84, "type": "quantitative"}}},
  {"data": {"values": [{}]}, "mark": {"type": "text", "text": "MA10:45.38", "fontSize": 4.6, "align": "left", "baseline": "middle", "color": "#f0a030"},
   "encoding": {"x": {"datum": 13.2, "type": "quantitative"}, "y": {"datum": 55.84, "type": "quantitative"}}},
  {"data": {"values": [{}]}, "mark": {"type": "text", "text": "MA100:49.03", "fontSize": 4.6, "align": "left", "baseline": "middle", "color": "#8e62b8"},
   "encoding": {"x": {"datum": 24.7, "type": "quantitative"}, "y": {"datum": 55.84, "type": "quantitative"}}},
  {"data": {"values": [{}]}, "mark": {"type": "text", "text": "MA200:49.78", "fontSize": 4.6, "align": "left", "baseline": "middle", "color": "#5a5ae0"},
   "encoding": {"x": {"datum": 37, "type": "quantitative"}, "y": {"datum": 55.84, "type": "quantitative"}}},
  {"data": {"values": [{}]}, "mark": {"type": "text", "text": "美原油日线走势图", "fontSize": 11, "color": "#f04040", "font": "Noto Sans CJK SC", "baseline": "middle"},
   "encoding": {"x": {"datum": 63.8, "type": "quantitative"}, "y": {"datum": 54.85, "type": "quantitative"}}},
  {"data": {"values": [{}]}, "mark": {"type": "text", "text": "55.34—", "fontSize": 5, "align": "left", "baseline": "middle", "color": "#444444"},
   "encoding": {"x": {"datum": 104.3, "type": "quantitative"}, "y": {"datum": 55.34, "type": "quantitative"}}},
  {"data": {"values": [{}]}, "mark": {"type": "text", "text": "39.19—", "fontSize": 5, "align": "left", "baseline": "middle", "color": "#444444"},
   "encoding": {"x": {"datum": 0.9, "type": "quantitative"}, "y": {"datum": 39.25, "type": "quantitative"}}}
 ]
},
{
 "width": 586, "height": 55,
 "layer": [
  {"data": {"name": "rsi"}, "mark": {"type": "line", "color": "#9a58b6", "strokeWidth": 0.9},
   "encoding": {"x": {"field": "i", "type": "quantitative", "scale": {"domain": [0, 258], "nice": false, "zero": false}},
    "y": {"field": "r3", "type": "quantitative", "scale": {"domain": [4.57, 98.86], "nice": false, "zero": false}}}},
  {"data": {"values": [{}]}, "mark": {"type": "rule", "color": "#d4d4c4", "strokeDash": [2, 2], "strokeWidth": 0.8}, "encoding": {"y": {"datum": 80, "type": "quantitative"}}},
  {"data": {"values": [{}]}, "mark": {"type": "rule", "color": "#d4d4c4", "strokeDash": [2, 2], "strokeWidth": 0.8}, "encoding": {"y": {"datum": 50, "type": "quantitative"}}},
  {"data": {"values": [{}]}, "mark": {"type": "rule", "color": "#d4d4c4", "strokeDash": [2, 2], "strokeWidth": 0.8}, "encoding": {"y": {"datum": 20, "type": "quantitative"}}},
  {"data": {"values": [{}]}, "mark": {"type": "text", "text": "80", "align": "left", "baseline": "middle", "fontSize": 5.5, "color": "#555555"}, "encoding": {"x": {"datum": 259, "type": "quantitative"}, "y": {"datum": 80, "type": "quantitative"}}},
  {"data": {"values": [{}]}, "mark": {"type": "text", "text": "50", "align": "left", "baseline": "middle", "fontSize": 5.5, "color": "#555555"}, "encoding": {"x": {"datum": 259, "type": "quantitative"}, "y": {"datum": 50, "type": "quantitative"}}},
  {"data": {"values": [{}]}, "mark": {"type": "text", "text": "20", "align": "left", "baseline": "middle", "fontSize": 5.5, "color": "#555555"}, "encoding": {"x": {"datum": 259, "type": "quantitative"}, "y": {"datum": 20, "type": "quantitative"}}},
  {"data": {"values": [{}]}, "mark": {"type": "text", "text": "0", "align": "left", "baseline": "middle", "fontSize": 5.5, "color": "#555555"}, "encoding": {"x": {"datum": 259, "type": "quantitative"}, "y": {"datum": 10.5, "type": "quantitative"}}},
  {"data": {"name": "rsi"}, "mark": {"type": "line", "color": "#f2a640", "strokeWidth": 0.9},
   "encoding": {"x": {"field": "i", "type": "quantitative"}, "y": {"field": "r2", "type": "quantitative"}}},
  {"data": {"name": "rsi"}, "mark": {"type": "line", "color": "#55617c", "strokeWidth": 0.9},
   "encoding": {"x": {"field": "i", "type": "quantitative"}, "y": {"field": "r1", "type": "quantitative"}}},
  {"data": {"values": [{}]}, "mark": {"type": "text", "text": "RSI(6,12,24)", "fontSize": 4, "align": "left", "baseline": "middle", "color": "#666666"},
   "encoding": {"x": {"datum": 0.44, "type": "quantitative"}, "y": {"datum": 92.9, "type": "quantitative"}}},
  {"data": {"values": [{}]}, "mark": {"type": "text", "text": "RSI1:51.79", "fontSize": 4, "align": "left", "baseline": "middle", "color": "#44506a"},
   "encoding": {"x": {"datum": 11.2, "type": "quantitative"}, "y": {"datum": 92.9, "type": "quantitative"}}},
  {"data": {"values": [{}]}, "mark": {"type": "text", "text": "RSI2:49.35", "fontSize": 4, "align": "left", "baseline": "middle", "color": "#f0a030"},
   "encoding": {"x": {"datum": 20.5, "type": "quantitative"}, "y": {"datum": 92.9, "type": "quantitative"}}},
  {"data": {"values": [{}]}, "mark": {"type": "text", "text": "RSI3:48.97", "fontSize": 4, "align": "left", "baseline": "middle", "color": "#9a50b0"},
   "encoding": {"x": {"datum": 29.8, "type": "quantitative"}, "y": {"datum": 92.9, "type": "quantitative"}}}
 ]
},
{
 "width": 586, "height": 81,
 "layer": [
  {"data": {"name": "k"}, "mark": {"type": "rule", "strokeWidth": 0.9},
   "encoding": {"x": {"field": "i", "type": "quantitative", "scale": {"domain": [0, 258], "nice": false, "zero": false}},
    "y": {"field": "m", "type": "quantitative", "scale": {"domain": [-1.8, 2.34], "nice": false, "zero": false}}, "y2": {"datum": 0},
    "color": {"condition": {"test": "datum.m >= 0", "value": "#f27a7a"}, "value": "#62b862"}}},
  {"data": {"values": [{}]}, "mark": {"type": "rule", "color": "#d4d4c4", "strokeDash": [2, 2], "strokeWidth": 0.8}, "encoding": {"y": {"datum": 1.2, "type": "quantitative"}}},
  {"data": {"values": [{}]}, "mark": {"type": "rule", "color": "#d4d4c4", "strokeDash": [2, 2], "strokeWidth": 0.8}, "encoding": {"y": {"datum": 0, "type": "quantitative"}}},
  {"data": {"values": [{}]}, "mark": {"type": "rule", "color": "#d4d4c4", "strokeDash": [2, 2], "strokeWidth": 0.8}, "encoding": {"y": {"datum": -1.2, "type": "quantitative"}}},
  {"data": {"values": [{}]}, "mark": {"type": "text", "text": "1.2", "align": "left", "baseline": "middle", "fontSize": 5.5, "color": "#555555"}, "encoding": {"x": {"datum": 259, "type": "quantitative"}, "y": {"datum": 1.2, "type": "quantitative"}}},
  {"data": {"values": [{}]}, "mark": {"type": "text", "text": "0", "align": "left", "baseline": "middle", "fontSize": 5.5, "color": "#555555"}, "encoding": {"x": {"datum": 259, "type": "quantitative"}, "y": {"datum": 0, "type": "quantitative"}}},
  {"data": {"values": [{}]}, "mark": {"type": "text", "text": "-1.2", "align": "left", "baseline": "middle", "fontSize": 5.5, "color": "#555555"}, "encoding": {"x": {"datum": 259, "type": "quantitative"}, "y": {"datum": -1.2, "type": "quantitative"}}},
  {"data": {"values": [{}]}, "mark": {"type": "text", "text": "2016/07", "baseline": "middle", "fontSize": 5, "color": "#555555"}, "encoding": {"x": {"datum": 3.3, "type": "quantitative"}, "y": {"datum": -1.98, "type": "quantitative"}}},
  {"data": {"values": [{}]}, "mark": {"type": "text", "text": "09", "baseline": "middle", "fontSize": 5, "color": "#555555"}, "encoding": {"x": {"datum": 28.6, "type": "quantitative"}, "y": {"datum": -1.98, "type": "quantitative"}}},
  {"data": {"values": [{}]}, "mark": {"type": "text", "text": "10", "baseline": "middle", "fontSize": 5, "color": "#555555"}, "encoding": {"x": {"datum": 50.2, "type": "quantitative"}, "y": {"datum": -1.98, "type": "quantitative"}}},
  {"data": {"values": [{}]}, "mark": {"type": "text", "text": "11", "baseline": "middle", "fontSize": 5, "color": "#555555"}, "encoding": {"x": {"datum": 70, "type": "quantitative"}, "y": {"datum": -1.98, "type": "quantitative"}}},
  {"data": {"values": [{}]}, "mark": {"type": "text", "text": "12", "baseline": "middle", "fontSize": 5, "color": "#555555"}, "encoding": {"x": {"datum": 92, "type": "quantitative"}, "y": {"datum": -1.98, "type": "quantitative"}}},
  {"data": {"values": [{}]}, "mark": {"type": "text", "text": "2017/01", "baseline": "middle", "fontSize": 5, "color": "#555555"}, "encoding": {"x": {"datum": 111.4, "type": "quantitative"}, "y": {"datum": -1.98, "type": "quantitative"}}},
  {"data": {"values": [{}]}, "mark": {"type": "text", "text": "02", "baseline": "middle", "fontSize": 5, "color": "#555555"}, "encoding": {"x": {"datum": 132.5, "type": "quantitative"}, "y": {"datum": -1.98, "type": "quantitative"}}},
  {"data": {"values": [{}]}, "mark": {"type": "text", "text": "03", "baseline": "middle", "fontSize": 5, "color": "#555555"}, "encoding": {"x": {"datum": 151.9, "type": "quantitative"}, "y": {"datum": -1.98, "type": "quantitative"}}},
  {"data": {"values": [{}]}, "mark": {"type": "text", "text": "04", "baseline": "middle", "fontSize": 5, "color": "#555555"}, "encoding": {"x": {"datum": 173.9, "type": "quantitative"}, "y": {"datum": -1.98, "type": "quantitative"}}},
  {"data": {"values": [{}]}, "mark": {"type": "text", "text": "05", "baseline": "middle", "fontSize": 5, "color": "#555555"}, "encoding": {"x": {"datum": 192.4, "type": "quantitative"}, "y": {"datum": -1.98, "type": "quantitative"}}},
  {"data": {"values": [{}]}, "mark": {"type": "text", "text": "06", "baseline": "middle", "fontSize": 5, "color": "#555555"}, "encoding": {"x": {"datum": 214.9, "type": "quantitative"}, "y": {"datum": -1.98, "type": "quantitative"}}},
  {"data": {"values": [{}]}, "mark": {"type": "text", "text": "07", "baseline": "middle", "fontSize": 5, "color": "#555555"}, "encoding": {"x": {"datum": 236, "type": "quantitative"}, "y": {"datum": -1.98, "type": "quantitative"}}},
  {"data": {"values": [{}]}, "mark": {"type": "text", "text": "日线", "align": "left", "baseline": "middle", "fontSize": 5, "color": "#555555", "font": "Noto Sans CJK SC"}, "encoding": {"x": {"datum": 259, "type": "quantitative"}, "y": {"datum": -1.98, "type": "quantitative"}}},
  {"data": {"name": "dea"}, "mark": {"type": "line", "color": "#f2a640", "strokeWidth": 0.9, "interpolate": "monotone"},
   "encoding": {"x": {"field": "i", "type": "quantitative"}, "y": {"field": "v", "type": "quantitative"}}},
  {"data": {"name": "dif"}, "mark": {"type": "line", "color": "#55617c", "strokeWidth": 0.9, "interpolate": "monotone"},
   "encoding": {"x": {"field": "i", "type": "quantitative"}, "y": {"field": "v", "type": "quantitative"}}},
  {"data": {"values": [{}]}, "mark": {"type": "text", "text": "MACD(12,26,9)", "fontSize": 4, "align": "left", "baseline": "middle", "color": "#666666"},
   "encoding": {"x": {"datum": 0.44, "type": "quantitative"}, "y": {"datum": 2.11, "type": "quantitative"}}},
  {"data": {"values": [{}]}, "mark": {"type": "text", "text": "DIFF:-0.35", "fontSize": 4, "align": "left", "baseline": "middle", "color": "#44506a"},
   "encoding": {"x": {"datum": 13.4, "type": "quantitative"}, "y": {"datum": 2.11, "type": "quantitative"}}},
  {"data": {"values": [{}]}, "mark": {"type": "text", "text": "DEA:-0.75", "fontSize": 4, "align": "left", "baseline": "middle", "color": "#f0a030"},
   "encoding": {"x": {"datum": 22.2, "type": "quantitative"}, "y": {"datum": 2.11, "type": "quantitative"}}},
  {"data": {"values": [{}]}, "mark": {"type": "text", "text": "MACD:0.81", "fontSize": 4, "align": "left", "baseline": "middle", "color": "#9a50b0"},
   "encoding": {"x": {"datum": 30.8, "type": "quantitative"}, "y": {"datum": 2.11, "type": "quantitative"}}}
 ]
}
]
}
